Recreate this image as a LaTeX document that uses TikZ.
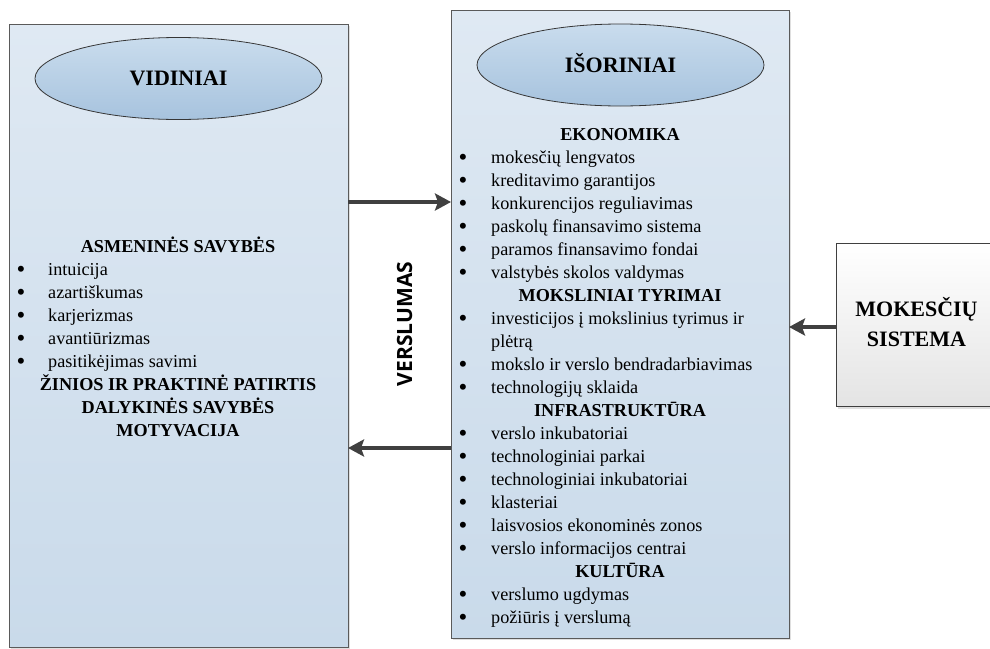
\documentclass[tikz,border=0pt]{standalone}
\usepackage{fontspec}
\setmainfont{Liberation Serif}
\newfontfamily\osans{Open Sans}
\usetikzlibrary{arrows.meta,shapes.geometric,shadows}
\definecolor{boxtop}{HTML}{DFE9F3}
\definecolor{boxbot}{HTML}{C9DAEA}
\definecolor{elltop}{HTML}{C9DCED}
\definecolor{ellbot}{HTML}{A7C3DE}
\definecolor{edgec}{HTML}{5A5A5A}
\definecolor{arrowc}{HTML}{404040}
\definecolor{taxbot}{HTML}{E4E4E4}
\begin{document}
\begin{tikzpicture}[x=1pt,y=-1pt,
  panel/.style={rectangle, draw=edgec, line width=1pt, top color=boxtop, bottom color=boxbot,
    inner sep=0pt, outer sep=0pt,
    drop shadow={shadow xshift=2pt, shadow yshift=-2pt, opacity=0.25, fill=gray}},
  taxbox/.style={rectangle, draw=edgec!70!black, line width=1pt, top color=white, bottom color=taxbot,
    inner sep=0pt, outer sep=0pt,
    drop shadow={shadow xshift=2pt, shadow yshift=-3pt, opacity=0.25, fill=gray}},
  oval/.style={ellipse, draw=edgec!60!black, line width=0.8pt, top color=elltop, bottom color=ellbot,
    inner sep=0pt, minimum width=287pt, minimum height=82pt,
    font=\bfseries\fontsize{22}{26}\selectfont, text height=14.6pt, text depth=0pt},
  head/.style={anchor=base, inner sep=0pt, font=\bfseries\fontsize{18.2}{23}\selectfont},
  itm/.style={anchor=base west, inner sep=0pt, font=\fontsize{18.2}{23}\selectfont},
  bul/.style={anchor=base, inner sep=0pt, yshift=-2pt, font=\fontsize{25}{25}\selectfont},
  taxtxt/.style={anchor=base, inner sep=0pt, font=\bfseries\fontsize{22}{26}\selectfont},
  arr/.style={draw=arrowc, line width=4pt, -{Stealth[length=16pt,width=17pt,inset=3pt]}}
]
\useasboundingbox (0,0) rectangle (990,648);

% panels
\node[panel, minimum width=339pt, minimum height=623pt] (vid) at (178.5,335.5) {};
\node[panel, minimum width=338pt, minimum height=628pt] (isor) at (620,324) {};
\node[taxbox, minimum width=165pt, minimum height=163pt] (tax) at (918.5,324.5) {};

% ovals
\node[oval] (vidoval) at (178.5,78.5) {VIDINIAI};
\node[oval] (isoval) at (620.5,65) {IŠORINIAI};

% left list
\node[head] (lh1) at (178,252) {ASMENINĖS SAVYBĖS};
\foreach \t [count=\i] in {intuicija, azartiškumas, karjerizmas, avantiūrizmas, pasitikėjimas savimi}{
  \node[bul] (lb\i) at (21,{252+23*\i}) {•};
  \node[itm] (lt\i) at (48,{252+23*\i}) {\t};
}
\node[head] (lh2) at (178,390) {ŽINIOS IR PRAKTINĖ PATIRTIS};
\node[head] (lh3) at (178,413) {DALYKINĖS SAVYBĖS};
\node[head] (lh4) at (178,436) {MOTYVACIJA};

% right list
\node[head] (rh1) at (620,140) {EKONOMIKA};
\foreach \t [count=\i] in {mokesčių lengvatos, kreditavimo garantijos, konkurencijos reguliavimas,
  paskolų finansavimo sistema, paramos finansavimo fondai, valstybės skolos valdymas}{
  \node[bul] (eb\i) at (463,{140+23*\i}) {•};
  \node[itm] (et\i) at (491,{140+23*\i}) {\t};
}
\node[head] (rh2) at (620,301) {MOKSLINIAI TYRIMAI};
\node[bul] (mb1) at (463,324) {•};
\node[itm] (mt1) at (491,324) {investicijos į mokslinius tyrimus ir};
\node[itm] (mt1b) at (491,347) {plėtrą};
\node[bul] (mb2) at (463,370) {•};
\node[itm] (mt2) at (491,370) {mokslo ir verslo bendradarbiavimas};
\node[bul] (mb3) at (463,393) {•};
\node[itm] (mt3) at (491,393) {technologijų sklaida};
\node[head] (rh3) at (620,416) {INFRASTRUKTŪRA};
\foreach \t [count=\i] in {verslo inkubatoriai, technologiniai parkai, technologiniai inkubatoriai,
  klasteriai, laisvosios ekonominės zonos, verslo informacijos centrai}{
  \node[bul] (ib\i) at (463,{416+23*\i}) {•};
  \node[itm] (it\i) at (491,{416+23*\i}) {\t};
}
\node[head] (rh4) at (620,577) {KULTŪRA};
\node[bul] (kb1) at (463,600) {•};
\node[itm] (kt1) at (491,600) {verslumo ugdymas};
\node[bul] (kb2) at (463,623) {•};
\node[itm] (kt2) at (491,623) {požiūris į verslumą};

% tax text
\node[taxtxt] (tx1) at (916.5,316.7) {MOKESČIŲ};
\node[taxtxt] (tx2) at (916.5,346) {SISTEMA};

% vertical label
\node[rotate=90, inner sep=0pt, font=\osans\bfseries\fontsize{21}{25}\selectfont] (versl) at (404.5,324) {VERSLUMAS};

% arrows
\coordinate (ya) at (0,202);
\coordinate (yb) at (0,448);
\coordinate (yc) at (0,327);
\draw[arr] (vid.east |- ya) -- (isor.west |- ya);
\draw[arr] (isor.west |- yb) -- (vid.east |- yb);
\draw[arr] (tax.west |- yc) -- (isor.east |- yc);
\end{tikzpicture}
\end{document}
